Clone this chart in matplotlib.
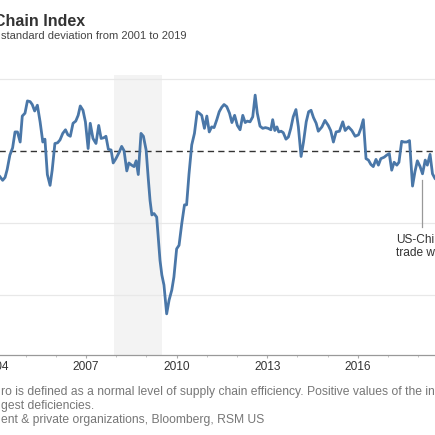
import matplotlib
matplotlib.use("Agg")
import matplotlib.pyplot as plt
from matplotlib.ticker import MultipleLocator

plt.rcParams['font.family'] = ['Liberation Sans', 'DejaVu Sans']

# index readings (fractional year, standard deviations from average)
dates = [
    2004.15, 2004.24, 2004.32, 2004.39, 2004.48, 2004.57, 2004.65, 2004.73, 2004.82, 2004.89,
    2004.98, 2005.06, 2005.15, 2005.22, 2005.30, 2005.39, 2005.48, 2005.57, 2005.64, 2005.72,
    2005.81, 2005.88, 2005.97, 2006.06, 2006.14, 2006.23, 2006.32, 2006.40, 2006.48, 2006.57,
    2006.66, 2006.74, 2006.81, 2006.90, 2006.98, 2007.07, 2007.14, 2007.23, 2007.33, 2007.42,
    2007.50, 2007.59, 2007.66, 2007.74, 2007.83, 2007.90, 2007.99, 2008.10, 2008.18, 2008.26,
    2008.35, 2008.42, 2008.51, 2008.59, 2008.66, 2008.73, 2008.82, 2008.90, 2008.99, 2009.06,
    2009.12, 2009.18, 2009.25, 2009.34, 2009.39, 2009.45, 2009.51, 2009.58, 2009.67, 2009.75,
    2009.84, 2009.91, 2010.00, 2010.08, 2010.17, 2010.26, 2010.33, 2010.41, 2010.50, 2010.59,
    2010.68, 2010.75, 2010.83, 2010.92, 2011.00, 2011.08, 2011.16, 2011.24, 2011.33, 2011.41,
    2011.49, 2011.57, 2011.66, 2011.75, 2011.83, 2011.92, 2012.01, 2012.10, 2012.19, 2012.27,
    2012.34, 2012.43, 2012.52, 2012.60, 2012.67, 2012.76, 2012.85, 2012.94, 2013.03, 2013.12,
    2013.18, 2013.25, 2013.32, 2013.38, 2013.46, 2013.53, 2013.62, 2013.70, 2013.78, 2013.86,
    2013.95, 2014.03, 2014.12, 2014.20, 2014.29, 2014.37, 2014.45, 2014.53, 2014.62, 2014.69,
    2014.81, 2014.91, 2015.02, 2015.10, 2015.19, 2015.28, 2015.39, 2015.50, 2015.58, 2015.69,
    2015.80, 2015.91, 2016.02, 2016.10, 2016.18, 2016.27, 2016.35, 2016.43, 2016.51, 2016.60,
    2016.68, 2016.76, 2016.87, 2016.96, 2017.04, 2017.12, 2017.20, 2017.29, 2017.36, 2017.45,
    2017.53, 2017.62, 2017.71, 2017.81, 2017.89, 2017.97, 2018.06, 2018.14, 2018.23, 2018.30,
    2018.39, 2018.47, 2018.56, 2018.65,
]
values = [
    -0.36, -0.41, -0.37, -0.26, -0.06, 0.04, 0.26, 0.26, 0.12, 0.48,
    0.52, 0.69, 0.68, 0.64, 0.55, 0.63, 0.40, 0.12, 0.16, -0.33,
    -0.48, -0.27, 0.10, 0.11, 0.15, 0.24, 0.29, 0.22, 0.20, 0.38,
    0.41, 0.49, 0.62, 0.56, 0.40, 0.03, 0.38, 0.17, 0.10, 0.35,
    0.17, 0.18, 0.20, 0.02, 0.01, -0.17, -0.11, -0.02, 0.06, 0.00,
    -0.28, -0.17, -0.20, -0.22, -0.14, -0.33, 0.24, 0.20, 0.01, -0.38,
    -0.69, -0.89, -0.87, -0.92, -1.19, -1.52, -1.72, -1.86, -2.26, -2.07,
    -1.93, -1.75, -1.36, -1.31, -1.01, -0.75, -0.75, -0.32, 0.08, 0.24,
    0.54, 0.52, 0.49, 0.31, 0.48, 0.26, 0.33, 0.32, 0.43, 0.54,
    0.60, 0.64, 0.61, 0.52, 0.39, 0.49, 0.35, 0.29, 0.49, 0.39,
    0.41, 0.40, 0.47, 0.77, 0.52, 0.34, 0.31, 0.32, 0.31, 0.29,
    0.43, 0.28, 0.33, 0.26, 0.27, 0.25, 0.16, 0.19, 0.31, 0.47,
    0.57, 0.33, -0.08, 0.12, 0.40, 0.54, 0.56, 0.46, 0.38, 0.27,
    0.33, 0.42, 0.35, 0.28, 0.12, 0.26, 0.27, 0.40, 0.28, 0.33,
    0.28, 0.20, 0.22, 0.31, 0.43, -0.11, -0.13, -0.19, -0.22, -0.12,
    -0.20, -0.11, -0.09, -0.06, -0.04, -0.27, -0.16, -0.20, -0.16, 0.13,
    0.12, 0.12, 0.14, -0.49, -0.29, -0.14, -0.22, -0.32, -0.13, -0.20,
    -0.05, -0.32, -0.39, -0.40,
]

recession = (2007.92, 2009.50)
grid_levels = [1, -1, -2]
year_ticks = [2001, 2004, 2007, 2010, 2013, 2016, 2019]
trade_war_date = 2018.13
trade_war_label = "US-China\ntrade war"

title = "Chain Index"
subtitle = "standard deviation from 2001 to 2019"
note_lines = [
    "ro is defined as a normal level of supply chain efficiency. Positive values of the in",
    "gest deficiencies.",
    "ent & private organizations, Bloomberg, RSM US",
]

W = 435.0
fig = plt.figure(figsize=(4.351, 4.351), dpi=100)
# the plot area runs past both edges of the picture
ax = fig.add_axes([-95.2 / W, 80 / W, 561.7 / W, 280 / W])
ax.set_xlim(2001.0, 2019.6)
ax.set_ylim(-2.83, 1.05)

ax.axvspan(recession[0], recession[1], color='#f3f3f3', zorder=0, lw=0)
for g in grid_levels:
    ax.axhline(g, color='#e8e8e8', lw=0.9, zorder=1)
ax.axhline(0, color='#333333', lw=1.0, ls=(0, (4.5, 3)), zorder=2)

ax.plot(dates, values, color='#4a77a8', lw=2.0, zorder=3, solid_joinstyle='round')

ax.plot([trade_war_date, trade_war_date], [-0.41, -1.06], color='#999999', lw=0.9, zorder=2)
ax.text(2017.27, -1.15, trade_war_label, fontsize=8.6, color='#333333',
        ha='left', va='top', linespacing=1.15)

for s in ['top', 'right', 'left']:
    ax.spines[s].set_visible(False)
ax.spines['bottom'].set_color('#999999')
ax.spines['bottom'].set_linewidth(0.9)
ax.set_yticks([])
ax.set_xticks(year_ticks)
ax.set_xticklabels([str(y) for y in year_ticks])
ax.xaxis.set_minor_locator(MultipleLocator(1))
ax.tick_params(axis='x', which='major', length=2.2, color='#aaaaaa', width=0.8,
               labelsize=8.6, labelcolor='#333333', pad=2.1)
ax.tick_params(axis='x', which='minor', length=1.5, color='#c4c4c4', width=0.7)

fig.text(-6 / W, 1 - 26 / W, title, fontsize=11.5, fontweight='bold', color='#333333',
         ha='left', va='baseline')
fig.text(0.5 / W, 1 - 39 / W, subtitle, fontsize=8.0, color='#444444',
         ha='left', va='baseline')
for i, line in enumerate(note_lines):
    fig.text(0.5 / W, 1 - (395 + 14 * i) / W, line, fontsize=8.7, color='#777777',
             ha='left', va='baseline')

fig.savefig("out.png", dpi=100)
